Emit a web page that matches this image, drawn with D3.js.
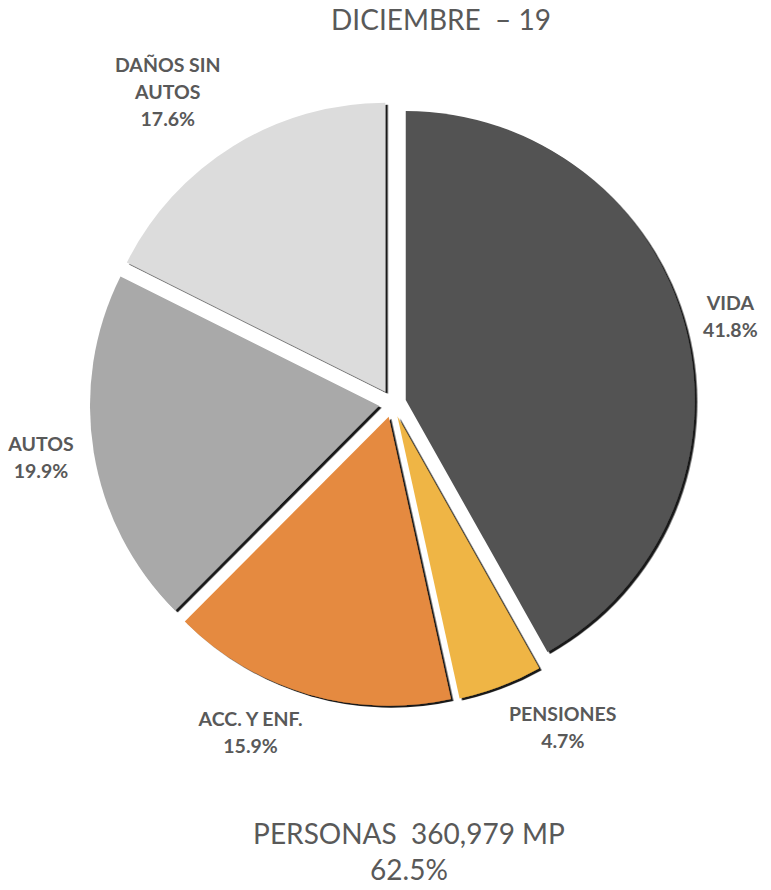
<!DOCTYPE html>
<html>
<head>
<meta charset="utf-8">
<script src="https://cdn.jsdelivr.net/npm/d3@7"></script>
<style>
  html, body { margin: 0; padding: 0; background: #ffffff; }
  svg { display: block; }
  text { font-family: Lato, "Open Sans", sans-serif; }
</style>
</head>
<body>
<div id="chart"></div>
<script>
// ---- data ----
const categories = ["VIDA", "PENSIONES", "ACC. Y ENF.", "AUTOS", "DAÑOS SIN AUTOS"];
const labelLines = [["VIDA"], ["PENSIONES"], ["ACC. Y ENF."], ["AUTOS"], ["DAÑOS SIN", "AUTOS"]];
const values = [41.8, 4.7, 15.9, 19.9, 17.6];
const colors = ["#525252", "#efb544", "#e58a3f", "#a9a9a9", "#dcdcdc"];
const titleText = "DICIEMBRE  – 19";
const footerLines = ["PERSONAS  360,979 MP", "62.5%"];

// ---- layout ----
const W = 771, H = 890;
const cx = 392.5, cy = 403.5, R = 289, explode = 13.7;
const labelNudge = [[9, -1], [49, 6], [-47, 3], [-16, -1], [-46, -22]];
const textColor = "#595959";

const svg = d3.select("#chart").append("svg").attr("width", W).attr("height", H);

const defs = svg.append("defs");
const f = defs.append("filter").attr("id", "shadow")
  .attr("x", "-10%").attr("y", "-10%").attr("width", "125%").attr("height", "125%");
f.append("feDropShadow").attr("dx", 2.5).attr("dy", 2).attr("stdDeviation", 0.6)
  .attr("flood-color", "#000").attr("flood-opacity", 0.9);

const data = categories.map((c, i) => ({ name: c, value: values[i], color: colors[i], lines: labelLines[i], nudge: labelNudge[i] }));
const pie = d3.pie().sort(null).value(d => d.value);
const arc = d3.arc().innerRadius(0).outerRadius(R);
const arcs = pie(data);

const g = svg.append("g").attr("transform", `translate(${cx},${cy})`);

arcs.forEach(a => {
  const mid = (a.startAngle + a.endAngle) / 2;
  a.dx = Math.sin(mid); a.dy = -Math.cos(mid);
});

g.selectAll("path.slice").data(arcs).join("path")
  .attr("class", "slice")
  .attr("d", arc)
  .attr("fill", d => d.data.color)
  .attr("filter", "url(#shadow)")
  .attr("transform", d => `translate(${d.dx * explode},${d.dy * explode})`);

// labels
const lh = 27;
arcs.forEach(a => {
  const lines = a.data.lines.concat([d3.format(".1f")(a.data.value) + "%"]);
  const px = (R + 51) * a.dx + a.data.nudge[0];
  const py = (R + 51) * a.dy + a.data.nudge[1];
  const t = g.append("text")
    .attr("text-anchor", "middle")
    .attr("fill", textColor)
    .attr("font-weight", "bold")
    .attr("font-size", 19.5);
  lines.forEach((ln, i) => {
    t.append("tspan")
      .attr("x", px)
      .attr("y", py + (i - (lines.length - 1) / 2) * lh + 7)
      .text(ln);
  });
});

// title
svg.append("text")
  .attr("x", 441).attr("y", 30)
  .attr("text-anchor", "middle")
  .attr("fill", textColor)
  .attr("font-size", 28)
  .style("white-space", "pre")
  .text(titleText);

// footer
footerLines.forEach((ln, i) => {
  svg.append("text")
    .attr("x", 409).attr("y", 844 + i * 36)
    .attr("text-anchor", "middle")
    .attr("fill", textColor)
    .attr("font-size", 28)
    .style("white-space", "pre")
    .text(ln);
});
</script>
</body>
</html>
